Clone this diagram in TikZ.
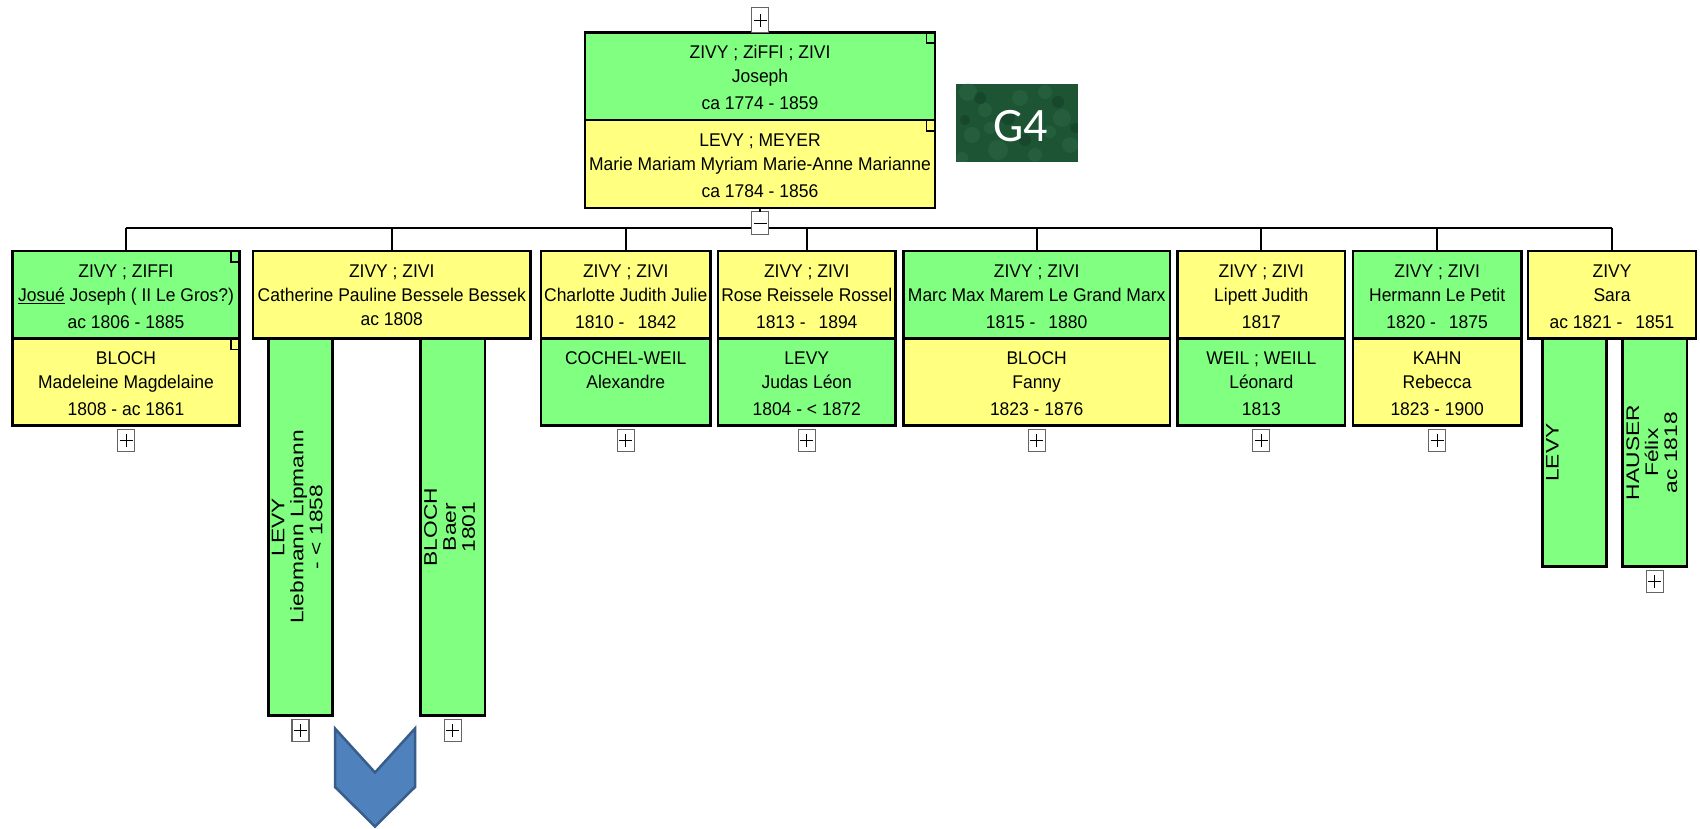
\documentclass[tikz,border=0pt]{standalone}
\usepackage{fontspec}
\setmainfont[FakeStretch=0.95]{Liberation Sans}
\newfontfamily\vfont[FakeStretch=1.25]{Liberation Sans}
\newfontfamily\gfont{Carlito}
\usetikzlibrary{calc}
\definecolor{boxgreen}{RGB}{128,255,128}
\definecolor{boxyellow}{RGB}{255,255,128}
\definecolor{pmgray}{RGB}{100,100,100}
\definecolor{chevfill}{RGB}{79,129,189}
\definecolor{chevline}{RGB}{56,93,138}
\definecolor{gdark}{RGB}{28,84,52}
\definecolor{glight}{RGB}{80,140,100}
\newcommand\mainsz{\fontsize{18.4}{21}\selectfont}
\newcommand\dd[2]{#1 -\hspace{13pt}#2}
\tikzset{
  sect/.style={rectangle, draw=black, line width=2.5pt, inner sep=0pt, outer sep=0pt, anchor=north west},
  gsect/.style={sect, fill=boxgreen},
  ysect/.style={sect, fill=boxyellow},
  txt/.style={inner sep=0pt, outer sep=0pt, anchor=base, font=\mainsz},
  vtxt/.style={inner sep=0pt, outer sep=0pt, anchor=north, rotate=90, align=center, font=\vfont\fontsize{18.2}{19}\selectfont},
  pmbox/.style={rectangle, draw=pmgray, line width=1.2pt, fill=white, minimum width=17pt, minimum height=22pt, inner sep=0pt, outer sep=0pt},
  plusbox/.style={pmbox, path picture={
      \draw[line width=0.9pt,black] ([xshift=-6.5pt]path picture bounding box.center) -- ([xshift=6.5pt]path picture bounding box.center);
      \draw[line width=0.9pt,black] ([yshift=-6.5pt]path picture bounding box.center) -- ([yshift=6.5pt]path picture bounding box.center);}},
  minusbox/.style={pmbox, path picture={
      \draw[line width=0.9pt,black] ([xshift=-6.5pt]path picture bounding box.center) -- ([xshift=6.5pt]path picture bounding box.center);}},
  conn/.style={draw=black, line width=2pt},
  cornermark/.style={draw=black, line width=1.8pt},
  chev/.style={fill=chevfill, draw=chevline, line width=2.5pt, line join=miter},
  blob/.style={fill=glight, opacity=0.18},
  darkblob/.style={fill=black, opacity=0.15},
}
\newcommand\sectbox[6]{\node[#2, minimum width={(#5)-(#3)}, minimum height={(#6)-(#4)}] (#1) at (#3,#4) {};}
\newcommand\threelines[4]{%
  \node[txt] (#1-a) at ([yshift=-26.3pt]#1.north) {#2};
  \node[txt] (#1-b) at ([yshift=-50.3pt]#1.north) {#3};
  \node[txt] (#1-c) at ([yshift=-77.3pt]#1.north) {#4};}
\newcommand\twolines[3]{%
  \node[txt] (#1-a) at ([yshift=-26.3pt]#1.north) {#2};
  \node[txt] (#1-b) at ([yshift=-50.3pt]#1.north) {#3};}
\newcommand\cmark[1]{\draw[cornermark] ([xshift=-8.5pt]#1.north east) -- ++(0,11) -- ++(8.5,0);}
\begin{document}
\begin{tikzpicture}[x=1pt,y=-1pt]
\useasboundingbox (0,0) rectangle (1700,829);
\fill[white] (0,0) rectangle (1700,829);

% ---- couple boxes
\sectbox{cplg}{gsect}{585}{32.3}{935}{120}
\sectbox{cply}{ysect}{585}{120}{935}{208}

% ---- children boxes
\sectbox{b1g}{gsect}{12.5}{251}{239.5}{338.5}
\sectbox{b1y}{ysect}{12.5}{338.5}{239.5}{425.5}
\sectbox{b2}{ysect}{253}{251}{530.5}{338.5}
\sectbox{b3y}{ysect}{541}{251}{710.5}{338.5}
\sectbox{b3g}{gsect}{541}{338.5}{710.5}{425.5}
\sectbox{b4y}{ysect}{718}{251}{895.5}{338.5}
\sectbox{b4g}{gsect}{718}{338.5}{895.5}{425.5}
\sectbox{b5g}{gsect}{903.3}{251}{1170}{338.5}
\sectbox{b5y}{ysect}{903.3}{338.5}{1170}{425.5}
\sectbox{b6y}{ysect}{1177.7}{251}{1345}{338.5}
\sectbox{b6g}{gsect}{1177.7}{338.5}{1345}{425.5}
\sectbox{b7g}{gsect}{1352.8}{251}{1521.5}{338.5}
\sectbox{b7y}{ysect}{1352.8}{338.5}{1521.5}{425.5}
\sectbox{b8}{ysect}{1528}{251}{1696}{338.5}

% ---- bus and drops
\coordinate (busL) at (126,228.3);
\coordinate (busR) at (1612,228.3);
\draw[conn] (b1g.north |- busL) -- (b8.north |- busR);
\foreach \n in {b1g,b2,b3y,b4y,b5g,b6y,b7g,b8} {\draw[conn] (\n.north) -- (\n.north |- busL);}
\node[minusbox, minimum height=23pt, anchor=north] (minus) at ([yshift=-3.7pt]cply.south) {};
\draw[conn] (cply.south) -- (minus.north);
\node[plusbox, minimum height=24.5pt, anchor=south] (ptop) at (cplg.north) {};

% ---- vertical children
\sectbox{levyL}{gsect}{268.3}{338.5}{332.7}{715.5}
\sectbox{blochB}{gsect}{420.7}{338.5}{485}{715.5}
\sectbox{levyS}{gsect}{1542.7}{338.5}{1606.5}{566.7}
\sectbox{hauser}{gsect}{1622.5}{338.5}{1687}{566.7}
\node[vtxt] (levyL-t) at ([xshift=3.5pt]levyL.west) {LEVY\\Liebmann Lipmann\\- < 1858};
\node[vtxt] (blochB-t) at ([xshift=3.5pt]blochB.west) {BLOCH\\Baer\\1801};
\node[vtxt] (levyS-t) at ([xshift=3.5pt]levyS.west) {LEVY};
\node[vtxt] (hauser-t) at ([xshift=4pt]hauser.west) {HAUSER\\Félix\\ac 1818};

% ---- corner marks
\cmark{cplg}
\cmark{cply}
\cmark{b1g}
\cmark{b1y}

% ---- texts
\threelines{cplg}{ZIVY ; ZiFFI ; ZIVI}{Joseph}{ca 1774 - 1859}
\threelines{cply}{LEVY ; MEYER}{Marie Mariam Myriam Marie-Anne Marianne}{ca 1784 - 1856}
\threelines{b1g}{ZIVY ; ZIFFI}{\underline{Josué} Joseph ( II Le Gros?)}{ac 1806 - 1885}
\threelines{b1y}{BLOCH}{Madeleine Magdelaine}{1808 - ac 1861}
\twolines{b2}{ZIVY ; ZIVI}{Catherine Pauline Bessele Bessek}
\node[txt] (b2-c) at ([yshift=-74.3pt]b2.north) {ac 1808};
\threelines{b3y}{ZIVY ; ZIVI}{Charlotte Judith Julie}{\dd{1810}{1842}}
\twolines{b3g}{COCHEL-WEIL}{Alexandre}
\threelines{b4y}{ZIVY ; ZIVI}{Rose Reissele Rossel}{\dd{1813}{1894}}
\threelines{b4g}{LEVY}{Judas Léon}{1804 - < 1872}
\threelines{b5g}{ZIVY ; ZIVI}{Marc Max Marem Le Grand Marx}{\dd{1815}{1880}}
\threelines{b5y}{BLOCH}{Fanny}{1823 - 1876}
\threelines{b6y}{ZIVY ; ZIVI}{Lipett Judith}{1817}
\threelines{b6g}{WEIL ; WEILL}{Léonard}{1813}
\threelines{b7g}{ZIVY ; ZIVI}{Hermann Le Petit}{\dd{1820}{1875}}
\threelines{b7y}{KAHN}{Rebecca}{1823 - 1900}
\threelines{b8}{ZIVY}{Sara}{\dd{ac 1821}{1851}}

% ---- plus boxes
\foreach \n in {b1y,b3g,b4g,b5y,b6g,b7y,levyL,blochB,hauser} {\node[plusbox, anchor=north] (\n-plus) at ([yshift=-4pt]\n.south) {};}

% ---- G4 badge
\node[rectangle, fill=gdark, inner sep=0pt, outer sep=0pt, minimum width=122pt, minimum height=78pt, anchor=north west] (g4) at (956,84) {};
\begin{scope}
  \clip (g4.south west) rectangle (g4.north east);
  \foreach \cx/\cy/\r in {968/92/9, 985/110/7, 972/135/8, 998/150/10, 1020/98/8, 1045/92/7, 1062/118/9, 1070/145/8, 1035/155/7, 990/128/6, 1050/132/6, 962/158/6}
    {\fill[blob] (\cx,\cy) circle[radius=\r pt];}
  \foreach \cx/\cy/\r in {980/98/6, 1008/118/7, 1058/102/6, 1025/140/6, 965/120/5, 1075/128/5}
    {\fill[darkblob] (\cx,\cy) circle[radius=\r pt];}
\end{scope}
\node[inner sep=0pt, anchor=base, text=white, font=\gfont\fontsize{48}{48}\selectfont] (g4t) at (1020.5,142) {G4};

% ---- chevron
\draw[chev] (335,728.5) -- (335,787) -- (375,826.5) -- (415,787) -- (415,728.5) -- (375,772.5) -- cycle;
\end{tikzpicture}
\end{document}
